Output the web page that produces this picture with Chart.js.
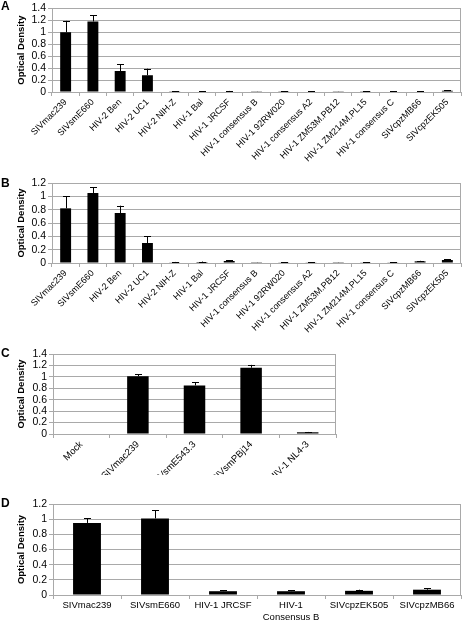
<!DOCTYPE html>
<html>
<head>
<meta charset="utf-8">
<script src="https://cdn.jsdelivr.net/npm/chart.js@4.4.0/dist/chart.umd.min.js"></script>
<style>
  body { margin: 0; background: #fff; }
  #wrap { position: relative; width: 462px; height: 620px; overflow: hidden; }
  canvas { position: absolute; left: 0; }
  .tag { position: absolute; left: 1px; font: bold 12px "Liberation Sans", Arial, sans-serif; line-height: 12px; }
</style>
</head>
<body>
<div id="wrap">
  <canvas id="chartA" width="462" height="170" style="top:0px"></canvas>
  <canvas id="chartB" width="462" height="165" style="top:170px"></canvas>
  <canvas id="chartC" width="462" height="140" style="top:335px"></canvas>
  <canvas id="chartD" width="462" height="130" style="top:490px"></canvas>
  <div class="tag" style="top:0px">A</div>
  <div class="tag" style="top:177px">B</div>
  <div class="tag" style="top:347px">C</div>
  <div class="tag" style="top:497px">D</div>
</div>
<script>
// Panel A + B share the same 15 viruses
const virusesAB = ['SIVmac239', 'SIVsmE660', 'HIV-2 Ben', 'HIV-2 UC1', 'HIV-2 NIH-Z', 'HIV-1 Bal',
    'HIV-1 JRCSF', 'HIV-1 consensus B', 'HIV-1 92RW020', 'HIV-1 consensus A2', 'HIV-1 ZM53M.PB12',
    'HIV-1 ZM214M.PL15', 'HIV-1 consensus C', 'SIVcpzMB66', 'SIVcpzEK505'];
const valuesA = [1.0, 1.18, 0.35, 0.28, 0.005, 0.01, 0.01, 0.003, 0.005, 0.007, 0.005, 0.005, 0.007, 0.01, 0.02];
const errorsA = [0.19, 0.10, 0.11, 0.11, 0.005, 0.005, 0.008, 0.003, 0.004, 0.004, 0.003, 0.004, 0.004, 0.006, 0.01];
const valuesB = [0.82, 1.05, 0.75, 0.30, 0.01, 0.015, 0.03, 0.003, 0.005, 0.005, 0.003, 0.01, 0.01, 0.025, 0.045];
const errorsB = [0.18, 0.09, 0.11, 0.10, 0.006, 0.007, 0.012, 0.003, 0.004, 0.004, 0.003, 0.005, 0.005, 0.008, 0.012];

const virusesC = ['Mock', 'SIVmac239', 'SIVsmE543.3', 'SIVsmPBj14', 'HIV-1 NL4-3'];
const valuesC = [0, 1.01, 0.85, 1.16, 0.03];
const errorsC = [0, 0.04, 0.06, 0.05, 0.006];

const virusesD = ['SIVmac239', 'SIVsmE660', 'HIV-1 JRCSF', ['HIV-1', 'Consensus B'], 'SIVcpzEK505', 'SIVcpzMB66'];
const valuesD = [0.95, 1.01, 0.05, 0.05, 0.055, 0.07];
const errorsD = [0.06, 0.11, 0.015, 0.015, 0.015, 0.02];

const gridColor = '#a9a9a9';
const font = '"Liberation Sans", Arial, sans-serif';

// --- upper error bars + chart frame ---
const errorBars = {
    id: 'errorBars',
    afterDatasetsDraw(chart) {
        const ctx = chart.ctx;
        const yScale = chart.scales.y;
        chart.data.datasets.forEach((ds, di) => {
            const meta = chart.getDatasetMeta(di);
            meta.data.forEach((bar, i) => {
                const err = ds.errors[i];
                if (!err) return;
                const yTop = yScale.getPixelForValue(ds.data[i] + err);
                ctx.save();
                ctx.strokeStyle = '#000';
                ctx.lineWidth = 1;
                ctx.beginPath();
                ctx.moveTo(Math.round(bar.x) + 0.5, bar.y);
                ctx.lineTo(Math.round(bar.x) + 0.5, yTop);
                ctx.moveTo(Math.round(bar.x) - 3, Math.round(yTop) + 0.5);
                ctx.lineTo(Math.round(bar.x) + 4, Math.round(yTop) + 0.5);
                ctx.stroke();
                ctx.restore();
            });
        });
    },
    afterDraw(chart) {
        const a = chart.chartArea;
        const ctx = chart.ctx;
        ctx.save();
        ctx.strokeStyle = gridColor;
        ctx.lineWidth = 1;
        ctx.strokeRect(Math.round(a.left) + 0.5, Math.round(a.top) + 0.5,
            Math.round(a.right - a.left) - 1, Math.round(a.bottom - a.top));
        ctx.restore();
    }
};

function makePanel(id, labels, values, errors, cfg) {
    const ctx = document.getElementById(id).getContext('2d');
    return new Chart(ctx, {
        type: 'bar',
        data: {
            labels: labels,
            datasets: [{
                data: values,
                errors: errors,
                backgroundColor: '#000',
                borderColor: '#000',
                borderWidth: 0,
                barPercentage: cfg.barPct,
                categoryPercentage: 1
            }]
        },
        options: {
            responsive: false,
            animation: false,
            devicePixelRatio: 1,
            layout: { padding: { top: cfg.top, right: cfg.right, left: 16, bottom: 0 } },
            plugins: { legend: { display: false }, tooltip: { enabled: false } },
            scales: {
                x: {
                    afterFit: s => { s.height = cfg.xh; },
                    grid: { offset: true, drawOnChartArea: false, drawTicks: true, tickLength: 4, color: gridColor },
                    border: { color: gridColor },
                    ticks: {
                        autoSkip: false,
                        maxRotation: cfg.rot, minRotation: cfg.rot,
                        padding: 1,
                        color: '#000',
                        font: { family: font, size: cfg.xFont }
                    }
                },
                y: {
                    min: 0, max: cfg.max,
                    afterFit: s => { s.width = cfg.yw - 16; },
                    grid: { color: gridColor, tickLength: 4 },
                    border: { color: gridColor },
                    title: {
                        display: true, text: 'Optical Density', color: '#000',
                        padding: 0,
                        font: { family: font, size: 9.5, weight: 'bold' }
                    },
                    ticks: {
                        autoSkip: false,
                        stepSize: 0.2, padding: 2, color: '#000',
                        font: { family: font, size: 10.5 },
                        callback: v => String(Math.round(v * 10) / 10)
                    }
                }
            }
        },
        plugins: [errorBars]
    });
}

makePanel('chartA', virusesAB, valuesA, errorsA, { barPct: 0.4, top: 5, right: 1, xh: 78, yw: 52, max: 1.4, rot: 45, xFont: 9 });
makePanel('chartB', virusesAB, valuesB, errorsB, { barPct: 0.4, top: 13, right: 1, xh: 72, yw: 52, max: 1.2, rot: 45, xFont: 9 });
makePanel('chartC', virusesC, valuesC, errorsC, { barPct: 0.38, top: 19, right: 126, xh: 41, yw: 53, max: 1.4, rot: 45, xFont: 9.5 });
makePanel('chartD', virusesD, valuesD, errorsD, { barPct: 0.41, top: 14, right: 1, xh: 25, yw: 53, max: 1.2, rot: 0, xFont: 9.5 });
</script>
</body>
</html>
